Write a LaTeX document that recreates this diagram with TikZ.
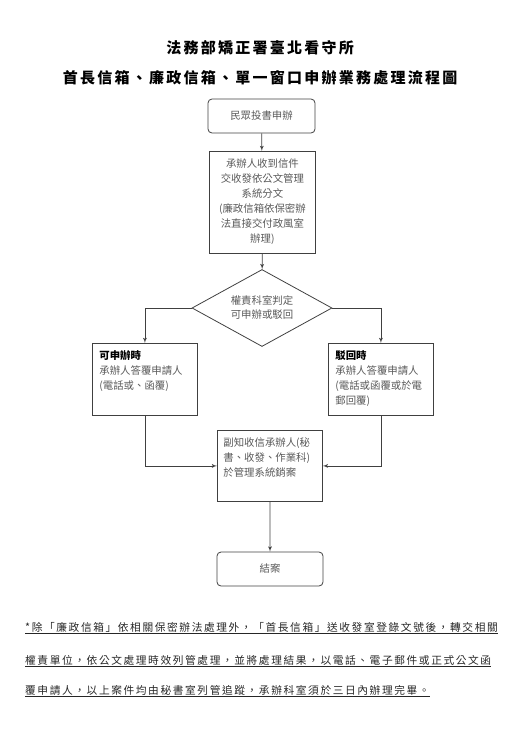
\documentclass[tikz,border=0pt]{standalone}
\usepackage{fontspec}
\setmainfont{Noto Sans CJK TC}
\newfontfamily\spreadcjk[LetterSpace=15]{Noto Sans CJK TC}
\usepackage{tikz}
\usetikzlibrary{arrows,shapes}

\begin{document}
\begin{tikzpicture}[>=latex', x=1pt, y=-1pt]
      \tikzset{
	  terminal/.style={draw=black!75, line width=0.8pt, rounded corners=4pt, minimum width=107pt, minimum height=34pt, text=black!65, font=\fontsize{10.4}{15}\selectfont},
	  process/.style={draw=black!75, line width=0.8pt, inner xsep=7pt, inner ysep=4pt, text height=12pt, text=black!65, font=\fontsize{10.4}{15}\selectfont},
	  decision/.style={draw=black!75, line width=0.8pt, diamond, aspect=1.8, inner sep=0pt, minimum width=140pt, minimum height=77pt, align=center, text=black!65, font=\fontsize{10.4}{14}\selectfont},
	  link/.style={draw=black!75, line width=0.8pt, ->},
	  title/.style={font=\spreadcjk\bfseries\fontsize{15}{18}\selectfont},
	  note/.style={anchor=base west, inner sep=0pt, text=black!85, font=\spreadcjk\fontsize{10.7}{13}\selectfont},
      }
      \useasboundingbox (0,0) rectangle (519,734);

      \node (t1) at (260,48) [title] {法務部矯正署臺北看守所};
      \node (t2) at (260,78) [title] {首長信箱、廉政信箱、單一窗口申辦業務處理流程圖};

      \node (submit) at (261.5,116) [terminal] {民眾投書申辦};
      \node (receive) at (209,151) [process, anchor=north west, inner xsep=6pt, text width=94pt, align=center, text depth=82pt]
	{承辦人收到信件\\交收發依公文管理\\系統分文\\(廉政信箱依保密辦\\法直接交付政風室\\辦理)};
      \node (judge) at (262,308) [decision] {權責科室判定\\可申辦或駁回};
      \node (accept) at (92,343) [process, anchor=north west, text width=91pt, align=left, text depth=52pt]
	{\textcolor{black}{\bfseries 可申辦時}\\承辦人答覆申請人\\(電話或、函覆)};
      \node (reject) at (328,343) [process, anchor=north west, text width=91pt, align=left, text depth=52pt]
	{\textcolor{black}{\bfseries 駁回時}\\承辦人答覆申請人\\(電話或函覆或於電\\郵回覆)};
      \node (notify) at (217,430) [process, anchor=north west, inner xsep=6pt, text width=93pt, align=left, text depth=51pt]
	{副知收信承辦人(秘\\書、收發、作業科)\\於管理系統銷案};
      \node (close) at (270,569) [terminal, minimum width=106pt] {結案};

      \draw [link] (submit) -- (receive);
      \draw [link] (receive) -- (judge);
      \draw [link] (judge.west) -| (accept.north);
      \draw [link] (judge.east) -| (reject.north);
      \draw [link] (accept.south) |- (notify.west);
      \draw [link] (reject.south) |- (notify.east);
      \draw [link] (notify) -- (close);

      \node (note1) at (25,631) [note] {\underline{*除「廉政信箱」依相關保密辦法處理外，「首長信箱」送收發室登錄文號後，轉交相關}};
      \node (note2) at (25,664) [note] {\underline{權責單位，依公文處理時效列管處理，並將處理結果，以電話、電子郵件或正式公文函}};
      \node (note3) at (25,694) [note] {\underline{覆申請人，以上案件均由秘書室列管追蹤，承辦科室須於三日內辦理完畢。}};
    \end{tikzpicture}
\end{document}
